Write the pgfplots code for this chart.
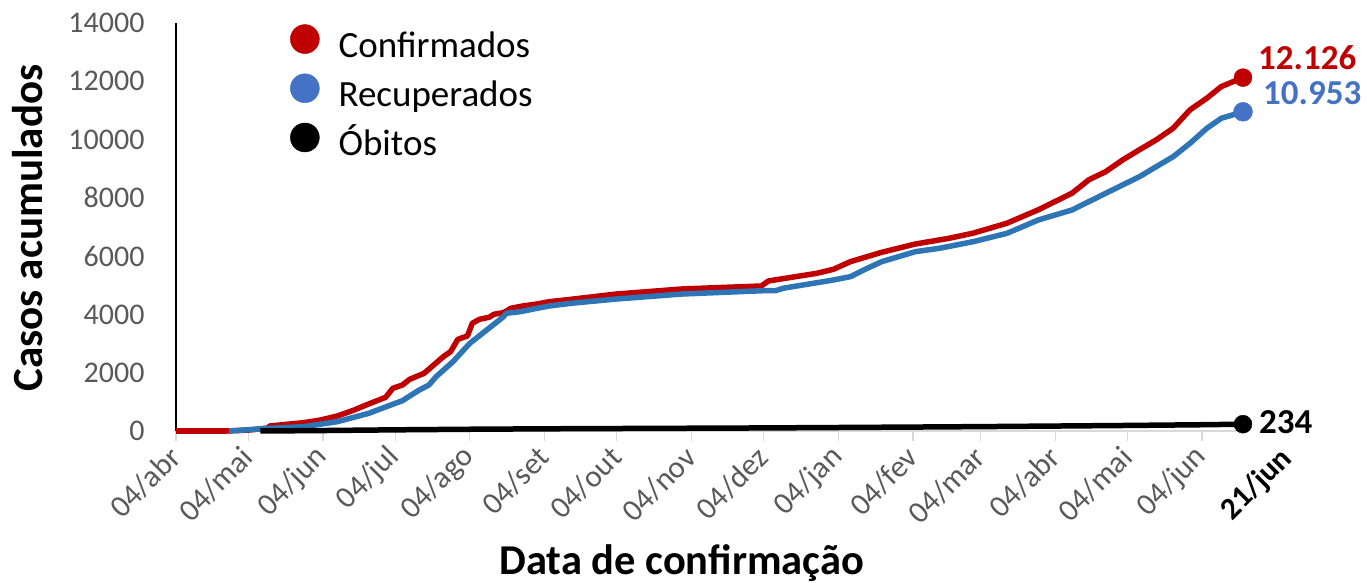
\documentclass[border=0pt]{standalone}
\usepackage{pgfplots}
\pgfplotsset{compat=1.18}
\usepackage{fontspec}
\setmainfont{Carlito}
\definecolor{cred}{HTML}{C00000}
\definecolor{cblue}{HTML}{2E75B6}
\definecolor{cblue2}{HTML}{4472C4}
\definecolor{tgray}{HTML}{595959}
\definecolor{agray}{HTML}{D9D9D9}

\pgfplotstableread{
d v
0 0
21 0
30 30
38 100
39 172
46 230
53 286
60 378
67 515
74 721
80 927
87 1155
90 1464
94 1578
97 1773
103 1979
107 2265
111 2550
114 2722
117 3146
121 3260
123 3695
126 3833
130 3902
132 4005
136 4062
139 4211
144 4290
150 4358
155 4438
164 4519
183 4701
210 4873
243 4976
246 5148
266 5411
273 5549
280 5811
293 6132
307 6417
321 6613
331 6790
345 7130
358 7590
372 8160
379 8620
386 8900
393 9300
400 9650
407 9990
414 10390
421 11020
428 11420
434 11820
443 12126
}\confirmados

\pgfplotstableread{
d v
22 0
39 92
53 149
67 320
80 606
94 1041
101 1407
105 1578
108 1865
115 2380
122 3010
129 3466
136 3923
137 4038
143 4095
150 4211
155 4290
164 4382
183 4530
210 4700
244 4815
249 4815
252 4897
273 5182
280 5297
287 5583
293 5811
307 6154
317 6270
331 6497
345 6783
358 7241
372 7584
386 8157
400 8727
414 9413
421 9872
428 10388
434 10731
443 10953
}\recuperados

\pgfplotstableread{
d v
35 0
60 15
91 40
122 60
153 75
183 85
214 95
244 105
275 120
306 135
334 150
365 170
395 190
426 215
443 234
}\obitos

\begin{document}
\begin{tikzpicture}
\path[use as bounding box] (0,0) rectangle (1367bp,583bp);
\begin{axis}[
  at={(176bp,152bp)}, anchor=south west, scale only axis,
  width=1067bp, height=408bp,
  xmin=0, xmax=443, ymin=0, ymax=14000,
  clip=false,
  axis x line=bottom, axis y line=left,
  axis line style={-},
  x axis line style={agray, line width=1.2bp},
  y axis line style={black, line width=2bp},
  xtick={0,30,61,91,122,153,183,214,244,275,306,334,365,395,426},
  xticklabels={04/abr,04/mai,04/jun,04/jul,04/ago,04/set,04/out,04/nov,04/dez,04/jan,04/fev,04/mar,04/abr,04/mai,04/jun},
  ytick={0,2000,4000,6000,8000,10000,12000,14000},
  scaled y ticks=false,
  tick align=outside,
  major tick length=10bp,
  xtick style={agray, line width=1.2bp},
  ytick style={draw=none},
  /pgf/number format/assume math mode=true,
  /pgf/number format/1000 sep={},
  x tick label style={font=\fontsize{31bp}{36bp}\selectfont, text=tgray, xshift=2bp, yshift=-9bp, rotate=45, anchor=east},
  y tick label style={font=\fontsize{30bp}{36bp}\selectfont, text=tgray, xshift=-18bp},
  xlabel={\textbf{Data de confirmação}},
  ylabel={\textbf{Casos acumulados}},
  xlabel style={font=\fontsize{42.5bp}{48bp}\selectfont, at={(axis description cs:0.474,-0.3235)}, anchor=center},
  ylabel style={font=\fontsize{43bp}{48bp}\selectfont, at={(axis description cs:-0.1387,0.4975)}, anchor=center},
  legend style={draw=none, fill=none, at={(axis description cs:0.104,1.002)}, anchor=north west,
    font=\fontsize{37bp}{42bp}\selectfont, row sep=6.5bp,
    nodes={inner sep=2bp, text height=26bp, text depth=8bp},
    /tikz/every odd column/.append style={column sep=17bp}},
  legend cell align=left,
]
\addplot[cred, line width=5.5bp, line join=round, mark=none, forget plot] table[x=d,y=v] {\confirmados};
\addplot[cblue, line width=5.5bp, line join=round, mark=none, forget plot] table[x=d,y=v] {\recuperados};
\addplot[black, line width=5.5bp, line join=round, mark=none, forget plot] table[x=d,y=v] {\obitos};
\addplot[only marks, mark=*, mark size=9bp, cred, forget plot] coordinates {(443,12126)};
\addplot[only marks, mark=*, mark size=9.5bp, cblue2, forget plot] coordinates {(443,10953)};
\addplot[only marks, mark=*, mark size=9bp, black, forget plot] coordinates {(443,234)};
\addlegendimage{legend image code/.code={\fill[cred] (12bp,9bp) circle (14.5bp);}}
\addlegendentry{Confirmados}
\addlegendimage{legend image code/.code={\fill[cblue2] (12bp,9bp) circle (14.5bp);}}
\addlegendentry{Recuperados}
\addlegendimage{legend image code/.code={\fill[black] (12bp,9bp) circle (14.5bp);}}
\addlegendentry{Óbitos}
\node[anchor=west, inner sep=0pt, text=cred, font=\bfseries\fontsize{35bp}{40bp}\selectfont, xshift=15bp, yshift=19.7bp] at (axis cs:443,12126) {12.126};
\node[anchor=west, inner sep=0pt, text=cblue2, font=\bfseries\fontsize{35bp}{40bp}\selectfont, xshift=20bp, yshift=18.8bp] at (axis cs:443,10953) {10.953};
\node[anchor=west, inner sep=0pt, text=black, font=\bfseries\fontsize{35bp}{40bp}\selectfont, xshift=16bp, yshift=2bp] at (axis cs:443,234) {234};
\node[xshift=47bp, yshift=-21bp, rotate=45, anchor=east, font=\bfseries\fontsize{31bp}{36bp}\selectfont, text=black] at (axis cs:443,0) {21/jun};
\end{axis}
\end{tikzpicture}
\end{document}
